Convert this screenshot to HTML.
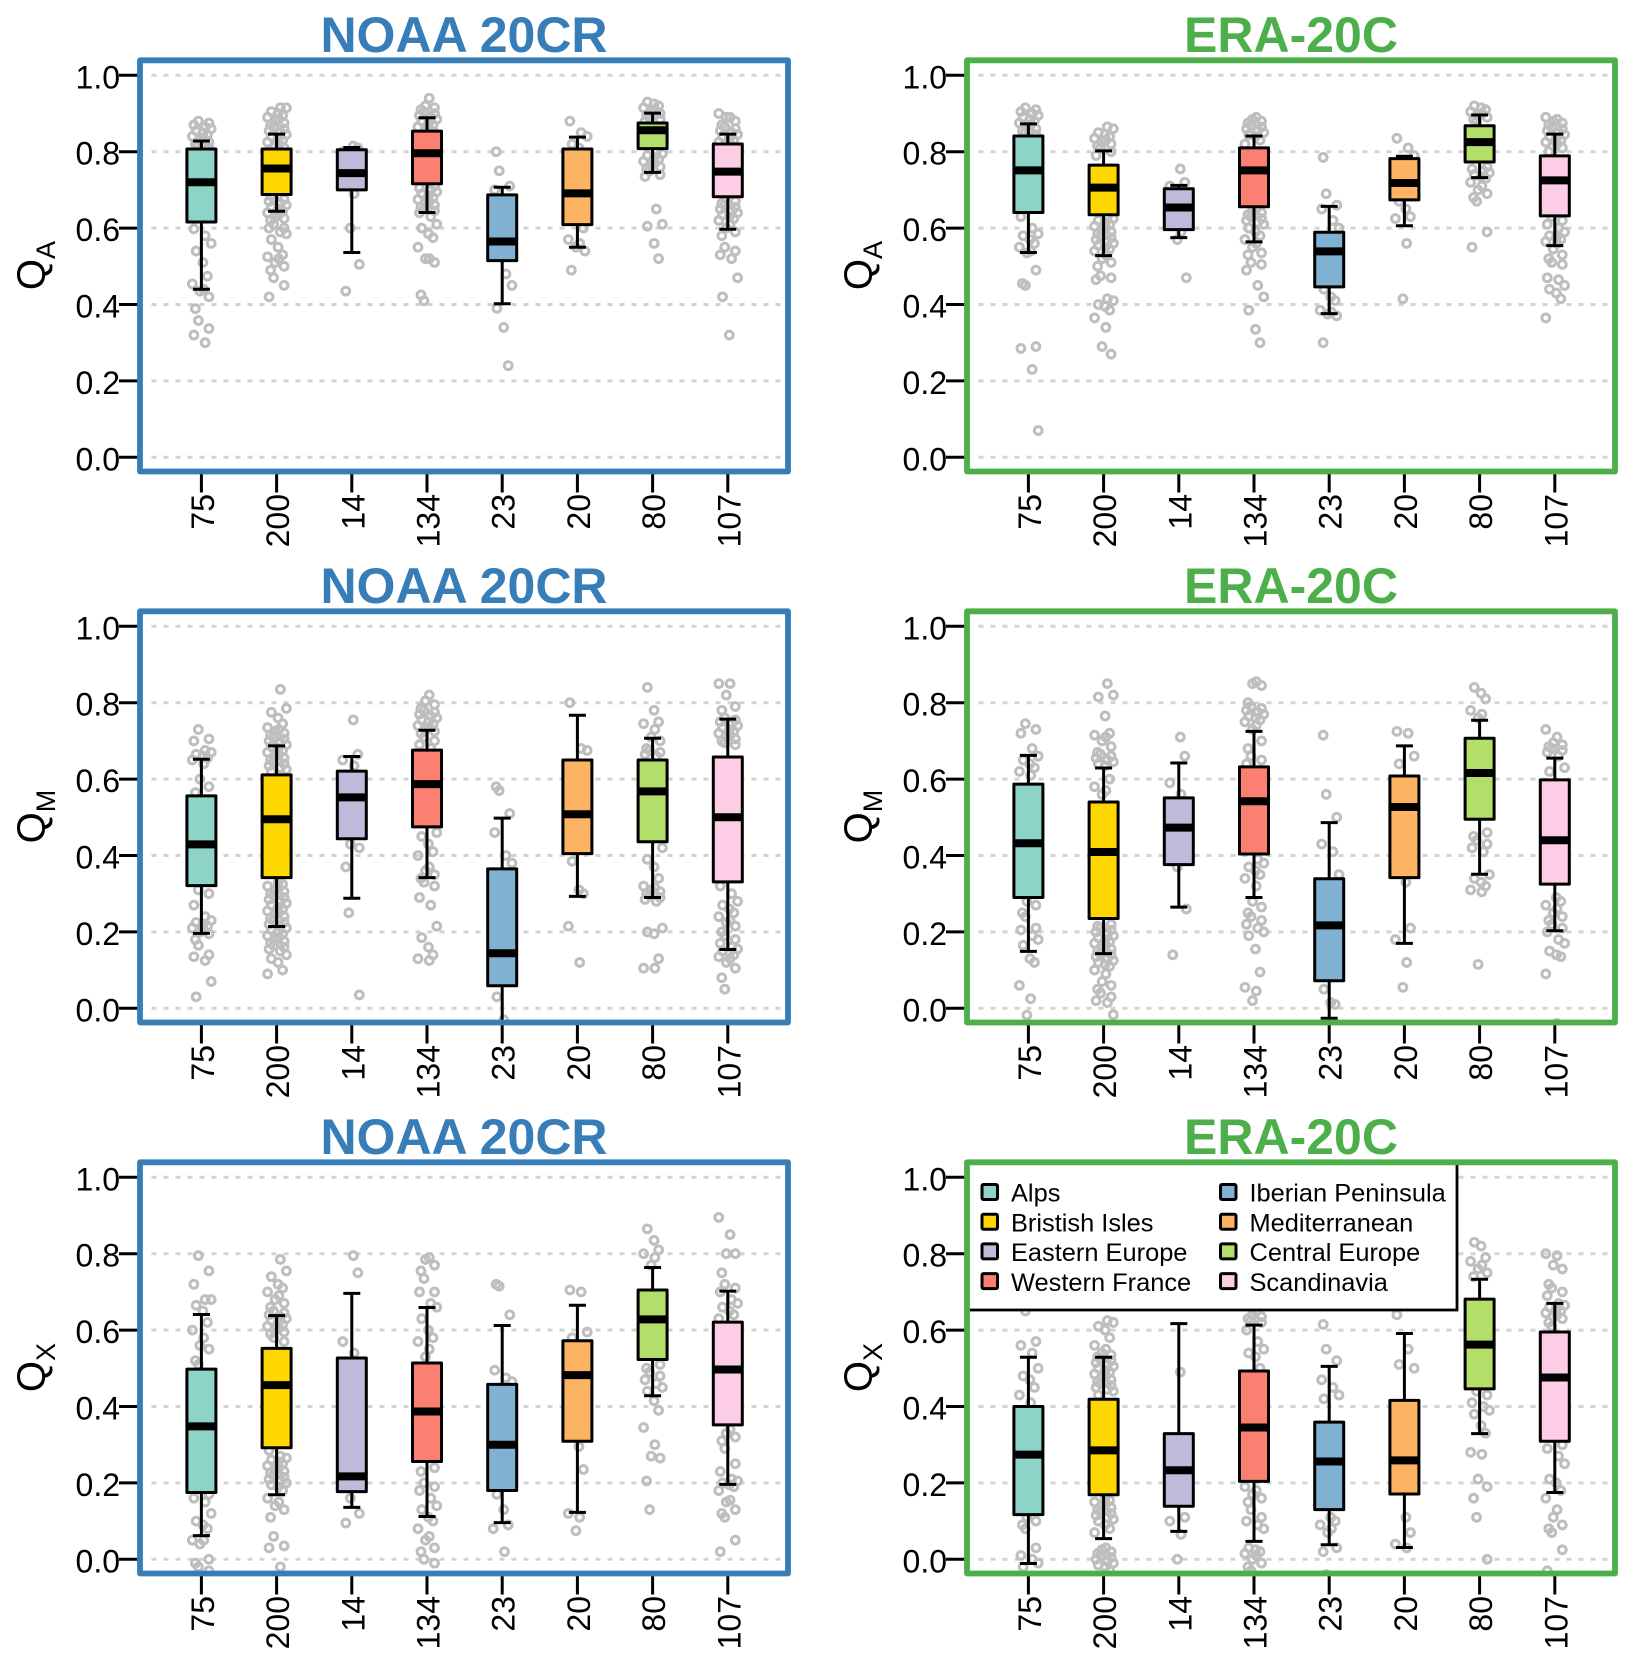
<!DOCTYPE html>
<html lang="en">
<head>
<meta charset="utf-8">
<title>Regional boxplots: NOAA 20CR and ERA-20C</title>
<style>
html,body{margin:0;padding:0;background:#fff;}
svg{display:block;font-family:"Liberation Sans",sans-serif;}
</style>
</head>
<body>
<svg id="chart" xmlns="http://www.w3.org/2000/svg" width="1634" height="1663" viewBox="0 0 1634 1663">
<rect width="1634" height="1663" fill="#ffffff"/>
</svg>
<script>
// ---- categories and labels ----
const sampleCounts = ['75','200','14','134','23','20','80','107'];
const regionNames = ['Alps','Bristish Isles','Eastern Europe','Western France','Iberian Peninsula','Mediterranean','Central Europe','Scandinavia'];
const regionColors = ['#8DD3C7','#FFD700','#BEBADA','#FB8072','#80B1D3','#FDB462','#B3DE69','#FCCDE5'];
const yTicks = [0,0.2,0.4,0.6,0.8,1.0];
const yTickLabels = ['0.0','0.2','0.4','0.6','0.8','1.0'];
// horizontal spread of the grey points, in category units
const jitterPattern = [-0.04,0.1,-0.1,0.05,0.13,-0.07,0.02,0.08,-0.12,0.03,-0.02,0.1,-0.08];

// ---- QA / NOAA 20CR ----
const qaNoaaLow  = [.44,.644,.536,.641,.402,.55,.746,.597];
const qaNoaaQ1   = [.616,.688,.70,.716,.515,.609,.808,.682];
const qaNoaaMed  = [.72,.756,.744,.796,.565,.691,.856,.748];
const qaNoaaQ3   = [.807,.807,.805,.854,.687,.807,.875,.82];
const qaNoaaHigh = [.828,.846,.811,.889,.707,.838,.901,.846];
const qaNoaaPoints = [
 [.88,.875,.87,.865,.86,.855,.85,.845,.84,.835,.83,.825,.82,.815,.81,.598,.58,.56,.54,.51,.474,.454,.44,.435,.42,.389,.358,.337,.32,.30],
 [.915,.915,.905,.90,.895,.89,.885,.88,.875,.87,.865,.86,.855,.85,.845,.84,.835,.83,.825,.82,.815,.81,.685,.68,.675,.67,.665,.66,.655,.65,.645,.64,.635,.63,.625,.62,.61,.60,.60,.59,.585,.57,.55,.53,.525,.52,.51,.50,.49,.47,.45,.42],
 [.815,.81,.80,.69,.60,.505,.435],
 [.94,.92,.915,.91,.905,.90,.895,.89,.885,.88,.875,.87,.865,.86,.855,.85,.84,.83,.71,.705,.70,.695,.69,.685,.68,.675,.67,.665,.66,.655,.65,.645,.64,.63,.61,.60,.585,.575,.55,.52,.52,.51,.425,.41],
 [.80,.75,.71,.70,.48,.45,.39,.34,.24],
 [.88,.85,.84,.82,.81,.60,.57,.56,.55,.54,.49],
 [.93,.925,.92,.915,.91,.905,.90,.895,.89,.885,.88,.80,.795,.79,.785,.78,.775,.77,.765,.76,.755,.75,.74,.735,.65,.61,.605,.56,.52],
 [.90,.89,.89,.88,.87,.865,.86,.855,.85,.845,.84,.835,.83,.825,.82,.68,.67,.665,.66,.655,.65,.645,.64,.635,.63,.625,.62,.61,.60,.59,.58,.55,.54,.53,.52,.47,.42,.32]
];

// ---- QA / ERA-20C ----
const qaEraLow  = [.536,.528,.575,.564,.376,.606,.732,.554];
const qaEraQ1   = [.641,.635,.596,.656,.446,.674,.773,.632];
const qaEraMed  = [.751,.706,.654,.751,.539,.718,.825,.725];
const qaEraQ3   = [.841,.765,.703,.81,.589,.782,.868,.789];
const qaEraHigh = [.873,.802,.712,.841,.657,.788,.896,.846];
const qaEraPoints = [
 [.915,.91,.905,.90,.895,.89,.885,.88,.875,.87,.865,.86,.855,.85,.845,.63,.60,.585,.58,.57,.56,.55,.54,.535,.49,.455,.45,.29,.285,.23,.07],
 [.865,.86,.85,.845,.84,.835,.83,.825,.82,.815,.81,.80,.79,.63,.625,.62,.615,.61,.605,.60,.595,.59,.585,.58,.575,.57,.565,.56,.555,.55,.545,.54,.53,.52,.51,.50,.475,.47,.465,.415,.41,.40,.395,.385,.365,.34,.29,.27],
 [.755,.72,.71,.59,.57,.47],
 [.89,.885,.88,.875,.87,.865,.86,.855,.85,.845,.84,.83,.82,.65,.645,.64,.635,.63,.625,.62,.615,.61,.60,.59,.58,.57,.56,.55,.535,.53,.51,.505,.49,.45,.42,.385,.335,.30],
 [.785,.69,.66,.65,.62,.60,.44,.42,.41,.385,.38,.375,.37,.30],
 [.835,.81,.79,.67,.65,.63,.625,.56,.415],
 [.92,.915,.91,.905,.90,.895,.89,.885,.88,.76,.755,.75,.745,.74,.735,.73,.72,.71,.70,.69,.68,.67,.59,.55],
 [.89,.885,.88,.875,.87,.865,.86,.855,.85,.845,.84,.835,.83,.825,.82,.815,.81,.80,.63,.62,.61,.60,.59,.58,.575,.57,.565,.56,.545,.53,.52,.51,.505,.47,.465,.45,.44,.43,.415,.365]
];

// ---- QM / NOAA 20CR ----
const qmNoaaLow  = [.196,.214,.288,.342,-.035,.293,.29,.154];
const qmNoaaQ1   = [.321,.342,.444,.475,.059,.405,.436,.331];
const qmNoaaMed  = [.429,.495,.552,.587,.144,.508,.568,.50];
const qmNoaaQ3   = [.556,.611,.621,.676,.365,.65,.65,.658];
const qmNoaaHigh = [.652,.687,.659,.728,.498,.767,.707,.757];
const qmNoaaPoints = [
 [.73,.705,.70,.675,.67,.665,.66,.655,.65,.64,.60,.58,.565,.31,.30,.27,.24,.23,.225,.22,.215,.21,.205,.20,.195,.18,.165,.14,.135,.125,.07,.03],
 [.835,.785,.775,.76,.745,.735,.73,.725,.72,.715,.71,.705,.70,.695,.69,.685,.68,.675,.67,.665,.66,.655,.65,.645,.64,.635,.63,.625,.62,.33,.325,.32,.315,.31,.305,.30,.295,.29,.285,.28,.275,.27,.265,.26,.255,.25,.245,.24,.235,.23,.225,.22,.215,.21,.205,.20,.195,.19,.185,.18,.175,.17,.165,.16,.155,.15,.14,.13,.12,.10,.09],
 [.755,.665,.65,.635,.43,.42,.37,.25,.035],
 [.82,.805,.795,.785,.78,.775,.77,.765,.76,.755,.75,.745,.74,.735,.73,.725,.72,.71,.70,.69,.68,.46,.45,.43,.41,.40,.37,.36,.35,.34,.33,.32,.29,.27,.215,.185,.16,.14,.13,.125],
 [.58,.57,.51,.46,.40,.38,.03,-.03],
 [.80,.68,.675,.385,.31,.30,.215,.12],
 [.84,.78,.75,.745,.73,.71,.70,.68,.675,.67,.665,.66,.42,.39,.37,.34,.32,.315,.31,.305,.30,.295,.29,.285,.28,.21,.20,.195,.13,.105,.105],
 [.85,.85,.82,.79,.78,.76,.755,.75,.745,.74,.735,.73,.725,.72,.715,.71,.705,.70,.695,.69,.32,.30,.28,.27,.26,.25,.24,.23,.225,.215,.20,.19,.18,.17,.16,.155,.15,.145,.14,.135,.13,.12,.105,.08,.05]
];

// ---- QM / ERA-20C ----
const qmEraLow  = [.149,.143,.265,.29,-.026,.17,.351,.203];
const qmEraQ1   = [.29,.235,.376,.404,.072,.342,.495,.325];
const qmEraMed  = [.432,.409,.473,.542,.217,.527,.616,.44];
const qmEraQ3   = [.587,.54,.551,.632,.339,.608,.707,.598];
const qmEraHigh = [.662,.629,.642,.725,.486,.687,.754,.655];
const qmEraPoints = [
 [.745,.73,.72,.68,.66,.65,.64,.63,.62,.61,.28,.27,.25,.24,.21,.205,.19,.18,.165,.13,.12,.06,.025,-.018],
 [.85,.82,.815,.765,.72,.715,.71,.70,.685,.67,.665,.66,.655,.65,.645,.64,.635,.60,.58,.57,.56,.22,.215,.21,.205,.20,.195,.19,.185,.18,.175,.17,.165,.16,.155,.15,.145,.14,.135,.13,.125,.12,.115,.11,.10,.09,.07,.06,.05,.04,.03,.02,.015,-.017],
 [.71,.66,.59,.56,.37,.26,.14],
 [.855,.85,.845,.80,.79,.785,.78,.775,.77,.765,.76,.755,.75,.74,.73,.70,.68,.66,.65,.64,.39,.38,.37,.36,.35,.34,.32,.28,.265,.25,.24,.23,.22,.21,.20,.19,.155,.095,.055,.045,.02],
 [.715,.56,.50,.43,.41,.35,.05,.015,.01],
 [.725,.72,.66,.64,.33,.21,.18,.12,.055],
 [.84,.825,.81,.78,.77,.76,.46,.45,.44,.43,.42,.41,.35,.34,.33,.32,.31,.305,.115],
 [.73,.71,.695,.69,.685,.68,.675,.67,.66,.63,.62,.29,.28,.27,.26,.25,.24,.23,.22,.21,.20,.18,.17,.15,.14,.135,.09,-.04]
];

// ---- QX / NOAA 20CR ----
const qxNoaaLow  = [.062,.169,.136,.112,.096,.123,.428,.196];
const qxNoaaQ1   = [.175,.292,.177,.256,.18,.309,.523,.352];
const qxNoaaMed  = [.348,.456,.217,.387,.30,.482,.628,.497];
const qxNoaaQ3   = [.498,.552,.527,.514,.458,.572,.705,.621];
const qxNoaaHigh = [.641,.638,.696,.659,.612,.665,.764,.702];
const qxNoaaPoints = [
 [.795,.755,.72,.68,.68,.665,.65,.62,.60,.58,.56,.55,.52,.51,.17,.16,.15,.12,.10,.09,.08,.05,.05,.04,.00,-.01,-.02,-.03],
 [.785,.755,.74,.72,.71,.70,.69,.68,.67,.66,.65,.645,.64,.635,.63,.625,.62,.615,.61,.605,.60,.595,.59,.58,.57,.285,.27,.265,.26,.255,.25,.245,.24,.235,.23,.225,.22,.215,.21,.205,.20,.195,.19,.18,.16,.15,.14,.13,.11,.06,.035,.03,-.02],
 [.795,.75,.57,.54,.16,.12,.095],
 [.79,.785,.77,.755,.735,.70,.70,.67,.66,.63,.60,.58,.57,.55,.53,.24,.23,.20,.19,.18,.16,.14,.13,.11,.10,.08,.06,.05,.03,.02,.00,-.01],
 [.72,.715,.64,.495,.475,.465,.17,.13,.09,.08,.02],
 [.705,.70,.595,.58,.295,.235,.12,.11,.075],
 [.865,.835,.81,.80,.79,.77,.51,.50,.49,.48,.47,.46,.45,.44,.415,.39,.345,.30,.27,.265,.205,.13],
 [.895,.85,.80,.80,.75,.72,.71,.70,.68,.67,.66,.65,.64,.63,.34,.33,.32,.31,.29,.25,.23,.21,.205,.20,.195,.19,.18,.155,.15,.13,.12,.11,.05,.02]
];

// ---- QX / ERA-20C ----
const qxEraLow  = [-.011,.054,.073,.047,.038,.031,.329,.175];
const qxEraQ1   = [.117,.169,.139,.204,.13,.171,.446,.309];
const qxEraMed  = [.274,.285,.233,.345,.256,.259,.562,.476];
const qxEraQ3   = [.40,.419,.329,.493,.359,.416,.681,.595];
const qxEraHigh = [.529,.529,.617,.613,.505,.591,.733,.67];
const qxEraPoints = [
 [.65,.57,.56,.54,.50,.48,.47,.45,.43,.41,.11,.10,.09,.08,.03,.01,.00,-.01,-.02],
 [.625,.62,.61,.60,.58,.56,.55,.54,.535,.53,.525,.52,.515,.51,.505,.50,.495,.49,.485,.48,.475,.47,.465,.46,.455,.45,.445,.44,.43,.16,.155,.15,.145,.14,.135,.13,.125,.12,.115,.11,.105,.10,.09,.08,.07,.03,.025,.02,.015,.01,.005,.00,-.005,-.01,-.015,-.02,-.03],
 [.49,.11,.10,.065,.00],
 [.65,.64,.635,.63,.625,.62,.60,.57,.55,.54,.53,.50,.19,.18,.17,.16,.15,.13,.11,.10,.09,.08,.03,.025,.02,.015,.01,.00,-.01,-.02,-.03],
 [.615,.55,.52,.47,.45,.43,.42,.11,.10,.09,.08,.07,.03,.02,-.04],
 [.64,.55,.50,.51,.11,.07,.04,.03],
 [.83,.82,.79,.78,.77,.76,.75,.74,.44,.43,.41,.40,.39,.38,.35,.33,.28,.275,.21,.19,.16,.11,0],
 [.80,.795,.77,.76,.72,.71,.70,.69,.67,.665,.66,.655,.65,.645,.64,.635,.63,.62,.61,.30,.29,.27,.25,.21,.20,.18,.16,.13,.11,.09,.08,.07,.025,-.03]
];

// ---- panel list ----
const panels = [
 {key:'qa-noaa',row:0,col:0,title:'NOAA 20CR',sub:'A',low:qaNoaaLow,q1:qaNoaaQ1,med:qaNoaaMed,q3:qaNoaaQ3,high:qaNoaaHigh,points:qaNoaaPoints},
 {key:'qa-era',row:0,col:1,title:'ERA-20C',sub:'A',low:qaEraLow,q1:qaEraQ1,med:qaEraMed,q3:qaEraQ3,high:qaEraHigh,points:qaEraPoints},
 {key:'qm-noaa',row:1,col:0,title:'NOAA 20CR',sub:'M',low:qmNoaaLow,q1:qmNoaaQ1,med:qmNoaaMed,q3:qmNoaaQ3,high:qmNoaaHigh,points:qmNoaaPoints},
 {key:'qm-era',row:1,col:1,title:'ERA-20C',sub:'M',low:qmEraLow,q1:qmEraQ1,med:qmEraMed,q3:qmEraQ3,high:qmEraHigh,points:qmEraPoints},
 {key:'qx-noaa',row:2,col:0,title:'NOAA 20CR',sub:'X',low:qxNoaaLow,q1:qxNoaaQ1,med:qxNoaaMed,q3:qxNoaaQ3,high:qxNoaaHigh,points:qxNoaaPoints},
 {key:'qx-era',row:2,col:1,title:'ERA-20C',sub:'X',low:qxEraLow,q1:qxEraQ1,med:qxEraMed,q3:qxEraQ3,high:qxEraHigh,points:qxEraPoints}
];

// ---- layout and axis functions ----
const NS = 'http://www.w3.org/2000/svg';
const svg = document.getElementById('chart');
const colColors = ['#377EB8','#4DAF4A'];
function frameLeft(col){ return 140 + col*827; }
function rowShift(row){ return row*551; }
function xScale(i,col){ return frameLeft(col) + 61.4 + 75.2*i; }
function yScale(v,row){ return rowShift(row) + 75.3 + (1-v)*382; }
function make(parent,tag,attrs){
  const node = document.createElementNS(NS,tag);
  for(const k in attrs){ node.setAttribute(k,attrs[k]); }
  parent.appendChild(node);
  return node;
}

panels.forEach(function(p){
  const L = frameLeft(p.col), R = L+648;
  const T = rowShift(p.row)+60.3, B = rowShift(p.row)+471.5;
  const color = colColors[p.col];

  const group = make(svg,'g',{});
  
  

  const clip = make(group,'clipPath',{id:'clip-'+p.key});
  
  
  const clipRect = make(clip,'rect',{x:L,y:T,width:R-L,height:B-T});
  
  

  const title = make(group,'text',{x:(L+R)/2,y:rowShift(p.row)+52,'text-anchor':'middle','font-size':50,'font-weight':'bold',fill:color});
  title.textContent = p.title;
  
  

  const yLabel = make(group,'text',{transform:'translate('+(L-95)+','+(rowShift(p.row)+265.6)+') rotate(-90)','text-anchor':'middle','font-size':40,fill:'#000'});
  
  
  const yLabelMain = make(yLabel,'tspan',{});
  yLabelMain.textContent = 'Q';
  
  
  const yLabelSub = make(yLabel,'tspan',{dy:10,'font-size':27});
  yLabelSub.textContent = p.sub;
  
  

  const plot = make(group,'g',{'clip-path':'url(#clip-'+p.key+')'});
  
  

  yTicks.forEach(function(v){
    const grid = make(plot,'line',{x1:L+11.5,x2:R-7,y1:yScale(v,p.row),y2:yScale(v,p.row),stroke:'#d3d3d3','stroke-width':3,'stroke-dasharray':'5 7'});
    
    
  });

  p.points.forEach(function(values,i){
    values.forEach(function(v,j){
      const pt = make(plot,'circle',{cx:xScale(i,p.col)+jitterPattern[(j+i*3)%jitterPattern.length]*75.2,cy:yScale(v,p.row),r:3.9,fill:'none',stroke:'#bebebe','stroke-width':3});
      
      
    });
  });

  sampleCounts.forEach(function(label,i){
    const cx = xScale(i,p.col);
    const whisker = make(plot,'line',{x1:cx,x2:cx,y1:yScale(p.high[i],p.row),y2:yScale(p.low[i],p.row),stroke:'#000','stroke-width':3});
    
    
    const capHigh = make(plot,'line',{x1:cx-8.5,x2:cx+8.5,y1:yScale(p.high[i],p.row),y2:yScale(p.high[i],p.row),stroke:'#000','stroke-width':3});
    
    
    const capLow = make(plot,'line',{x1:cx-8.5,x2:cx+8.5,y1:yScale(p.low[i],p.row),y2:yScale(p.low[i],p.row),stroke:'#000','stroke-width':3});
    
    
    const box = make(plot,'rect',{x:cx-14.5,y:yScale(p.q3[i],p.row),width:29,height:yScale(p.q1[i],p.row)-yScale(p.q3[i],p.row),fill:regionColors[i],stroke:'#000','stroke-width':3,'stroke-linejoin':'round'});
    
    
    const median = make(plot,'line',{x1:cx-14.5,x2:cx+14.5,y1:yScale(p.med[i],p.row),y2:yScale(p.med[i],p.row),stroke:'#000','stroke-width':8});
    
    
  });

  yTicks.forEach(function(v,k){
    const tick = make(group,'line',{x1:L-21,x2:L,y1:yScale(v,p.row),y2:yScale(v,p.row),stroke:'#000','stroke-width':3});
    
    
    const tickText = make(group,'text',{x:L-20,y:yScale(v,p.row)+13,'text-anchor':'end','font-size':32,fill:'#000'});
    tickText.textContent = yTickLabels[k];
    
    
  });

  sampleCounts.forEach(function(label,i){
    const cx = xScale(i,p.col);
    const tick = make(group,'line',{x1:cx,x2:cx,y1:B,y2:B+21,stroke:'#000','stroke-width':3});
    
    
    const tickText = make(group,'text',{transform:'translate('+(cx+12.5)+','+(B+22.5)+') rotate(-90)','text-anchor':'end','font-size':32,fill:'#000'});
    tickText.textContent = label;
    
    
  });

  if(p.key === 'qx-era'){
    const legend = make(group,'g',{});
    
    
    const legendBg = make(legend,'rect',{x:L,y:T,width:1457-L,height:1310-T,fill:'#fff',stroke:'#000','stroke-width':2.8});
    
    
    regionNames.forEach(function(name,i){
      const column = i<4 ? 0 : 1;
      const rowIndex = i%4;
      const keyX = L + 15 + column*238.5;
      const centerY = rowShift(p.row) + 90 + rowIndex*29.7;
      const key = make(legend,'rect',{x:keyX,y:centerY-7.5,width:15.5,height:15,rx:1.5,fill:regionColors[i],stroke:'#000','stroke-width':3});
      
      
      const text = make(legend,'text',{x:keyX+29,y:centerY+9.7,'font-size':25.4,fill:'#000'});
      text.textContent = name;
      
      
    });
  }

  const frame = make(group,'rect',{x:L,y:T,width:R-L,height:B-T,fill:'none',stroke:color,'stroke-width':5.8,'stroke-linejoin':'round'});
  
  
});
</script>
</body>
</html>
